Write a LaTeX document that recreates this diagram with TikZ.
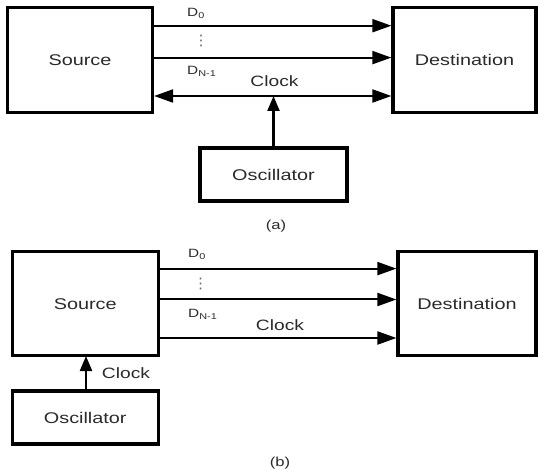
\documentclass[tikz,border=0pt]{standalone}
\usepackage{fontspec}
\setmainfont{Liberation Sans}[FakeStretch=1.28]
\newfontfamily\symfont{DejaVu Sans}
\usetikzlibrary{arrows.meta}
\definecolor{ink}{HTML}{2A2A2A}
\definecolor{dotgray}{HTML}{606060}
\tikzset{
  block/.style={draw=black, line width=3.2pt, fill=white, inner sep=0pt,
    text=ink, font=\fontsize{15.5}{17}\selectfont},
  sig/.style={line width=2pt, -{Triangle[length=19pt,width=13pt]}},
  bisig/.style={line width=2pt, {Triangle[length=19pt,width=13pt]}-{Triangle[length=19pt,width=13pt]}},
  uparrow/.style={line width=2.2pt, -{Triangle[length=15pt,width=12pt]}},
  lbl/.style={text=ink, inner sep=0pt, font=\fontsize{15}{17}\selectfont},
  dlbl/.style={text=ink, inner sep=0pt, anchor=west, font=\fontsize{12}{13}\selectfont},
  dotlbl/.style={text=dotgray, inner sep=0pt, font=\symfont\fontsize{14.5}{15}\selectfont},
  smalltext/.style={text=ink, inner sep=0pt, font=\fontsize{13}{14}\selectfont},
}
\newcommand{\sublbl}[1]{\raisebox{-0.3ex}{\fontsize{8.5}{9}\selectfont #1}}
\begin{document}
\begin{tikzpicture}[x=1pt,y=-1pt]
\useasboundingbox (0,0) rectangle (538,470);

% ---------------- (a) common clock driven from one oscillator
\node[block, minimum width=145pt, minimum height=105pt] (srcA) at (80,60) {Source};
\node[block, minimum width=143pt, minimum height=105pt] (dstA) at (464.5,60) {Destination};
\node[block, minimum width=147pt, minimum height=53pt] (oscA) at (273.5,174.5) {Oscillator};

\coordinate (a0) at (srcA.east |- 0,25.7);
\coordinate (a1) at (srcA.east |- 0,57.6);
\coordinate (ac) at (srcA.east |- 0,96);
\coordinate (a0e) at (dstA.west |- 0,25.7);
\coordinate (a1e) at (dstA.west |- 0,57.6);
\coordinate (ace) at (dstA.west |- 0,96);
\coordinate (tapA) at (oscA.north |- 0,96);

\draw[sig] (a0) -- (a0e);
\draw[sig] (a1) -- (a1e);
\draw[bisig] (ac) -- (ace);
\draw[uparrow] (oscA.north) -- (tapA);

\node[dlbl] (d0A) at (187,13) {D\sublbl{0}};
\node[dotlbl] (dotsA) at (201,40.5) {⋮};
\node[dlbl] (dnA) at (187,71) {D\sublbl{N-1}};
\node[lbl] (clkA) at (274.5,81) {Clock};
\node[smalltext] (capA) at (276,226.5) {(a)};

% ---------------- (b) oscillator feeding the source only
\node[block, minimum width=146pt, minimum height=104pt] (srcB) at (85.25,303.75) {Source};
\node[block, minimum width=138pt, minimum height=104pt] (dstB) at (467,303.75) {Destination};
\node[block, minimum width=146pt, minimum height=53pt] (oscB) at (85.25,417.5) {Oscillator};

\coordinate (b0) at (srcB.east |- 0,268.6);
\coordinate (b1) at (srcB.east |- 0,299.5);
\coordinate (bc) at (srcB.east |- 0,338);
\coordinate (b0e) at (dstB.west |- 0,268.6);
\coordinate (b1e) at (dstB.west |- 0,299.5);
\coordinate (bce) at (dstB.west |- 0,338);
\coordinate (oB) at (86,391);
\coordinate (sB) at (86,356);

\draw[sig] (b0) -- (b0e);
\draw[sig] (b1) -- (b1e);
\draw[sig] (bc) -- (bce);
\draw[uparrow] (oB) -- (sB);

\node[dlbl] (d0B) at (188,254) {D\sublbl{0}};
\node[dotlbl] (dotsB) at (200.7,284) {⋮};
\node[dlbl] (dnB) at (188,314) {D\sublbl{N-1}};
\node[lbl] (clkB) at (280,325) {Clock};
\node[lbl] (clkB2) at (126,373) {Clock};
\node[smalltext] (capB) at (280,463) {(b)};
\end{tikzpicture}
\end{document}
